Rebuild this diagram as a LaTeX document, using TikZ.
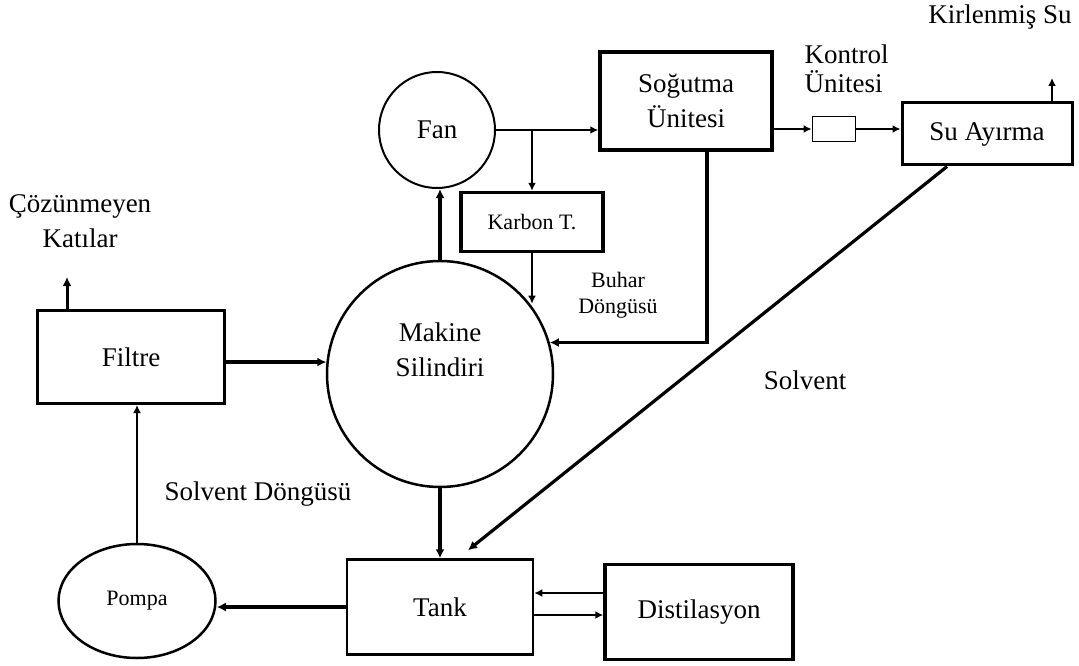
\documentclass[tikz,border=0pt]{standalone}
\usepackage{fontspec}
\setmainfont{Liberation Serif}
\usepackage{tikz}
\usetikzlibrary{arrows.meta,shapes.geometric}

\begin{document}
\begin{tikzpicture}[x=1pt,y=-1pt,
    big/.style={font=\fontsize{27}{35}\selectfont},
    small/.style={font=\fontsize{22}{26}\selectfont},
    unit/.style={draw, rectangle, line width=3pt, inner sep=0pt},
    thin arrow/.style={-{Latex[length=8pt,width=8pt]}, line width=1.8pt},
    thick arrow/.style={-{Latex[length=9pt,width=9pt]}, line width=3.2pt}]
  \useasboundingbox (0,0) rectangle (1079,666);

  % units
  \node[draw, circle, line width=2pt, minimum size=116pt, big] (fan) at (437,130) {Fan};
  \node[unit, line width=3.5pt, minimum width=172pt, minimum height=98pt, big, align=center] (sogutma) at (686,101) {Soğutma\\Ünitesi};
  \node[unit, line width=3.5pt, minimum width=142pt, minimum height=59pt, small] (karbon) at (532,222) {Karbon T.};
  \node[draw, circle, line width=2.5pt, minimum size=226pt] (makine) at (440,374) {};
  \node[big, align=center] (makinetxt) at (440,350) {Makine\\Silindiri};
  \node[unit, line width=1.8pt, minimum width=43pt, minimum height=25pt] (kontrol) at (834,129) {};
  \node[unit, minimum width=170pt, minimum height=62pt, big] (suayirma) at (987,134) {Su Ayırma};
  \node[unit, minimum width=187pt, minimum height=93pt, big] (filtre) at (131,357) {Filtre};
  \node[draw, ellipse, line width=2.5pt, minimum width=157pt, minimum height=114pt, small] (pompa) at (137,601) {Pompa};
  \node[unit, line width=2.5pt, minimum width=186pt, minimum height=95pt, big] (tank) at (440,607) {Tank};
  \node[unit, line width=3.5pt, minimum width=188pt, minimum height=95pt, big] (distil) at (699,612) {Distilasyon};

  % outlets
  \coordinate (kirlout) at (1052,78);
  \coordinate (katiout) at (67,277);

  % labels
  \node[big] (kirltxt) at (1000,17) {Kirlenmiş Su};
  \node[big, align=left, anchor=west, font=\fontsize{27}{29}\selectfont] (kontroltxt) at (801,69) {Kontrol\\Ünitesi};
  \node[big, align=center] (katitxt) at (80,221) {Çözünmeyen\\Katılar};
  \node[small, align=center] (buhartxt) at (618,295) {Buhar\\Döngüsü};
  \node[big] (solventtxt) at (805,380) {Solvent};
  \node[big] (dongutxt) at (258,494) {Solvent Döngüsü};

  % vapour loop
  \draw[thin arrow] (fan.east) -- (fan.east -| sogutma.west);
  \draw[thin arrow] (fan.east -| karbon.north) -- (karbon.north);
  \draw[thin arrow] (karbon.south) -- (karbon.south |- makine.38);
  \draw[thick arrow] (makine.north) -- (makine.north |- fan.south);
  \draw[thick arrow] ([xshift=21pt]sogutma.south) |- (makine.16);

  % water separation
  \draw[thin arrow] (sogutma.east |- kontrol.west) -- (kontrol.west);
  \draw[thin arrow] (kontrol.east) -- (kontrol.east -| suayirma.west);
  \draw[thin arrow] (suayirma.north -| kirlout) -- (kirlout);
  \draw[thick arrow] ([xshift=-40pt]suayirma.south) -- ([xshift=28pt,yshift=8pt]tank.north);

  % solvent loop
  \draw[thick arrow] (makine.south) -- (tank.north);
  \draw[thick arrow] (tank.west) -- (tank.west -| pompa.east);
  \draw[thin arrow] (pompa.north) -- (pompa.north |- filtre.south);
  \draw[thick arrow] (filtre.east |- makine.174) -- (makine.174);
  \draw[thick arrow, line width=3pt] (filtre.north -| katiout) -- (katiout);

  % distillation
  \draw[thin arrow] ([yshift=19pt]distil.west) -- ([yshift=19pt]distil.west -| tank.east);
  \draw[thin arrow] ([yshift=-8pt]tank.east) -- ([yshift=-8pt]tank.east -| distil.west);
\end{tikzpicture}
\end{document}
